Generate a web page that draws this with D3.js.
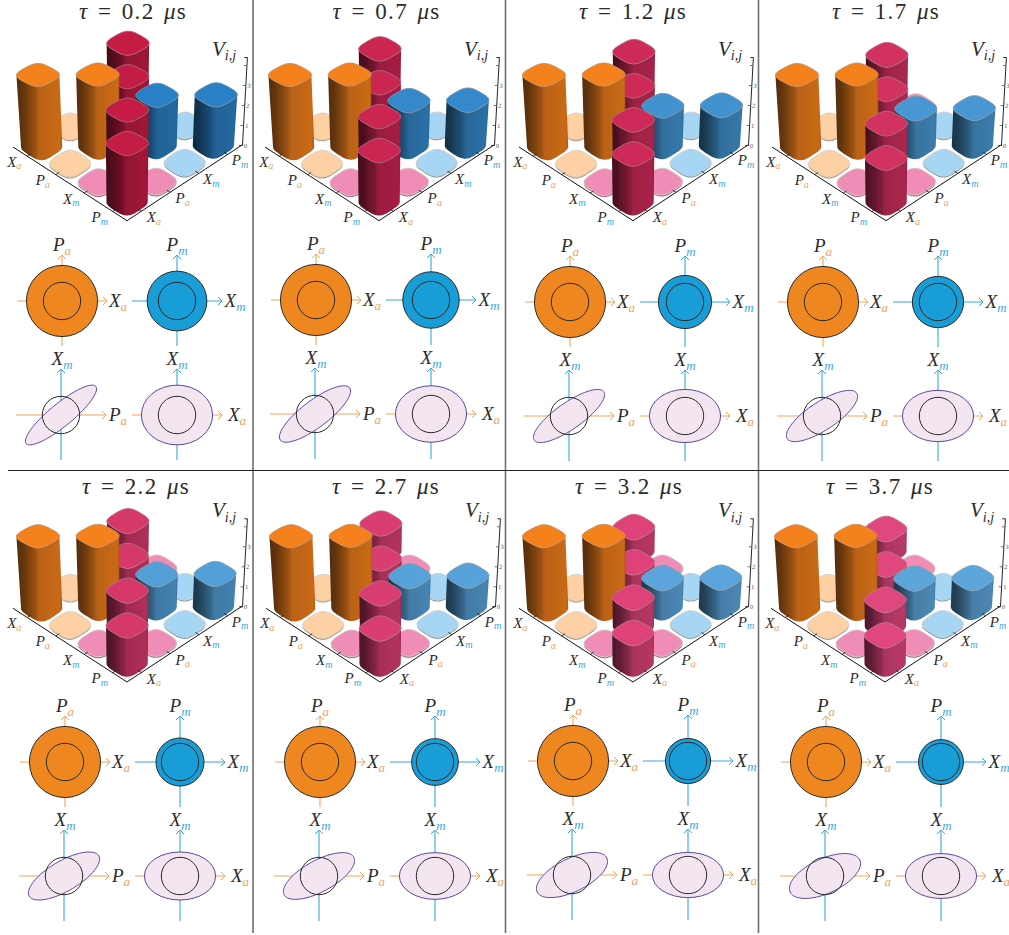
<!DOCTYPE html>
<html>
<head>
<meta charset="utf-8">
<title>Covariance matrices</title>
<script src="https://d3js.org/d3.v7.min.js"></script>
<style>
    html, body { margin: 0; padding: 0; background: #fff; overflow: hidden; }
    svg { display: block; }
    text { font-family: "Liberation Serif", serif; fill: #2b2b2b; white-space: pre; }
</style>
</head>
<body>
<svg id="chart" width="1009" height="935"></svg>
<script>
// values, one entry per panel
const taus = ["0.2", "0.7", "1.2", "1.7", "2.2", "2.7", "3.2", "3.7"];
const vAtom = [3.62, 3.62, 3.62, 3.62, 3.62, 3.62, 3.62, 3.62];
const vMech = [2.55, 2.28, 2.02, 1.88, 1.65, 1.56, 1.46, 1.44];
const vCross = [2.66, 2.34, 2.18, 2.0, 1.72, 1.58, 1.38, 1.27];
const tileAtom = 0.07, tileMech = 0.07, tileCross = 0.07;

const quadratures = ["X_a", "P_a", "X_m", "P_m"];
// A M C = big bars, a m c = the small tiles
const matrixKinds = [
    ["A", "a", "c", "C"],
    ["a", "A", "C", "c"],
    ["c", "C", "M", "m"],
    ["C", "c", "m", "M"]
];
const zTicks = [0, 1, 2, 3, 4];

// layout of the panels
const plotX = [127, 379, 633, 886, 127, 380, 633, 885];
const plotY = [220.7, 220.7, 220.7, 220.7, 682, 682, 682, 682];
const phaseX = [62, 316, 570, 823, 65, 320, 573, 826];
const phaseY = [301, 300, 302, 302, 762, 762, 761, 762];
const titleX = [133, 386.5, 633, 886, 136, 386, 629, 880];
const titleY = [19, 19, 19, 19, 494, 494, 494, 494];

const orange = "#ee8720", blue = "#189dd6";
const subOrange = "#f0a25c", subBlue = "#3aa9de";
const axisOrange = "#f4a35a", axisBlue = "#38a8de";

const svg = d3.select("#chart");
const defs = svg.append("defs");
defs.append("filter").attr("id", "soft")
    .append("feGaussianBlur").attr("stdDeviation", 0.4);

[["arrowO", axisOrange], ["arrowB", axisBlue]].forEach(function (m) {
    defs.append("marker").attr("id", m[0])
        .attr("viewBox", "-6 -6 8 12")
        .attr("markerUnits", "userSpaceOnUse")
        .attr("markerWidth", 8).attr("markerHeight", 12)
        .attr("orient", "auto")
        .append("path").attr("d", "M-4,-4 L0,0 L-4,4")
        .attr("fill", "none").attr("stroke", m[1]).attr("stroke-width", 1);
});

// floor projection, row and column measured in cells
const rowX = d3.scaleLinear().domain([4, 0]).range([0, -114]);
const rowY = d3.scaleLinear().domain([4, 0]).range([0, -73.7]);
const colX = d3.scaleLinear().domain([0, 4]).range([0, 115]);
const colY = d3.scaleLinear().domain([0, 4]).range([0, -75.7]);
const zPerUnit = d3.scaleLinear().domain([-130, -19]).range([17.6, 22]);
const lean = 0.012;

function project(a, b, z) {
    const fx = rowX(a) + colX(b);
    const fy = rowY(a) + colY(b);
    return [fx + fx * lean * z, fy - zPerUnit(fy) * z];
}

const radius = d3.scaleSqrt().domain([0, 1]).range([0, 18.7]);
const redOf = d3.scaleLinear().domain([1.27, 2.66]).range(["#e0467e", "#c41c44"]);
const blueOf = d3.scaleLinear().domain([1.44, 2.55]).range(["#5ca6dc", "#2a80c4"]);
const angles = d3.range(0, 360, 4).map(d => d * Math.PI / 180);
const closedLine = d3.line().curve(d3.curveLinearClosed);
const openLine = d3.line();

function cellValue(kind, i) {
    return { A: vAtom[i], M: vMech[i], C: vCross[i], a: tileAtom, m: tileMech, c: tileCross }[kind];
}

function cellColor(kind, i) {
    if (kind === "A") return "#f5811f";
    if (kind === "M") return blueOf(vMech[i]);
    if (kind === "C") return redOf(vCross[i]);
    return { a: "#fdd1a3", m: "#a6d6f3", c: "#f08db6" }[kind];
}

function shade(color, k) {
    const c = d3.rgb(color);
    return d3.rgb(c.r * k, c.g * k, c.b * k).formatHex();
}

function math(g, x, y, sym, sub, size) {
    const subColor = sub === "a" ? subOrange : subBlue;
    const t = g.append("text").attr("x", x).attr("y", y + size * 0.33)
        .attr("text-anchor", "middle").attr("font-size", size);
    t.append("tspan").attr("font-style", "italic").text(sym);
    t.append("tspan").attr("font-style", "italic").attr("font-size", size * 0.68)
        .attr("dy", size * 0.18).attr("fill", subColor).text(sub);
}

function drawCell(g, r, c, kind, i) {
    const value = cellValue(kind, i);
    const color = cellColor(kind, i);
    const big = kind === kind.toUpperCase();
    const half = 0.44;
    const outline = angles.map(function (t) {
        const ct = Math.cos(t), st = Math.sin(t);
        return [r + 0.5 + half * Math.sign(ct) * Math.pow(Math.abs(ct), 0.58),
                c + 0.5 + half * Math.sign(st) * Math.pow(Math.abs(st), 0.58)];
    });
    const bottom = outline.map(p => project(p[0], p[1], 0));
    const top = outline.map(p => project(p[0], p[1], value));

    // walk the front arc of the footprint, left extreme to right extreme
    const n = outline.length;
    const iL = d3.minIndex(bottom, p => p[0]);
    const iR = d3.maxIndex(bottom, p => p[0]);
    const arcA = [], arcB = [];
    for (let k = iL; ; k = (k + 1) % n) { arcA.push(k); if (k === iR) break; }
    for (let k = iL; ; k = (k - 1 + n) % n) { arcB.push(k); if (k === iR) break; }
    const front = d3.mean(arcA, k => bottom[k][1]) > d3.mean(arcB, k => bottom[k][1]) ? arcA : arcB;

    const id = "bar" + i + "-" + r + "-" + c;
    const grad = defs.append("linearGradient").attr("id", id);
    const stops = big
        ? [[0, 0.34], [0.14, 0.4], [0.4, 0.62], [0.5, 0.76], [0.95, 0.82], [1, 0.7]]
        : [[0, 0.72], [1, 0.72]];
    stops.forEach(function (s) {
        grad.append("stop").attr("offset", s[0]).attr("stop-color", shade(color, s[1]));
    });

    const body = front.map(k => bottom[k]).concat(front.slice().reverse().map(k => top[k]));
    g.append("path").attr("d", closedLine(body)).attr("fill", "url(#" + id + ")");
    g.append("path").attr("d", closedLine(top)).attr("fill", color)
        .attr("stroke", big ? d3.interpolateRgb(color, "#a09a94")(0.6) : "#cfc9c4")
        .attr("stroke-width", big ? 1 : 0.9);
}

function drawPlot(i) {
    const g = svg.append("g").attr("transform", "translate(" + plotX[i] + "," + plotY[i] + ")");
    const bars = g.append("g").attr("filter", "url(#soft)");

    const cells = [];
    matrixKinds.forEach(function (row, r) {
        row.forEach(function (kind, c) { cells.push({ r: r, c: c, kind: kind }); });
    });
    // back to front
    cells.sort((p, q) => project(p.r + 0.5, p.c + 0.5, 0)[1] - project(q.r + 0.5, q.c + 0.5, 0)[1]);
    cells.forEach(d => drawCell(bars, d.r, d.c, d.kind, i));

    // floor axes
    const floor = [project(0, 0, 0), project(4, 0, 0), project(4, 4, 0)];
    g.append("path").attr("d", openLine(floor))
        .attr("fill", "none").attr("stroke", "#111").attr("stroke-width", 1);

    quadratures.forEach(function (q, k) {
        const parts = q.split("_");
        const onLeft = project(k + 0.5, 0, 0);
        const onRight = project(4, k + 0.5, 0);
        const leftIn = project(k + 0.5, 0.12, 0);
        const rightIn = project(3.88, k + 0.5, 0);
        g.append("path").attr("d", openLine([onLeft, leftIn])).attr("stroke", "#111").attr("stroke-width", 0.8);
        g.append("path").attr("d", openLine([onRight, rightIn])).attr("stroke", "#111").attr("stroke-width", 0.8);
        math(g, onLeft[0] - 13, onLeft[1] + 5.5, parts[0], parts[1], 15);
        math(g, onRight[0] + 12.5, onRight[1] + 6, parts[0], parts[1], 15);
    });

    // vertical axis, leans a little to the right with the perspective
    const zCorner = project(4, 4, 0);
    const zScale = d3.scaleLinear().domain([0, 4.4]).range([0, -88]);
    const zAxis = d3.axisLeft(zScale).tickValues(zTicks).tickSize(2.5)
        .tickFormat(d => d === 4 ? "" : d);
    const za = g.append("g")
        .attr("transform", "translate(" + zCorner[0] + "," + zCorner[1] + ") skewX(-3.2)")
        .call(zAxis);
    za.select(".domain").attr("stroke", "#111").attr("stroke-width", 0.9);
    za.selectAll(".tick line").attr("stroke", "#333").attr("stroke-width", 0.7);
    za.selectAll(".tick text").attr("x", 2).attr("text-anchor", "start")
        .attr("font-size", 6.5).attr("font-family", "Liberation Sans").style("fill", "#555");

    const v = g.append("text").attr("x", 85).attr("y", -165).attr("font-size", 21);
    v.append("tspan").attr("font-style", "italic").text("V");
    v.append("tspan").attr("font-style", "italic").attr("font-size", 14).attr("dy", 4.5).text("i,j");
}

function axisPair(g, cx, cy, hColor, vColor) {
    const line = function (x1, y1, x2, y2, color, marker) {
        g.append("line").attr("x1", x1).attr("y1", y1).attr("x2", x2).attr("y2", y2)
            .attr("stroke", color).attr("stroke-width", 1.1)
            .attr("marker-end", "url(#" + marker + ")");
    };
    line(cx - 45, cy, cx + 45, cy, hColor, hColor === axisOrange ? "arrowO" : "arrowB");
    line(cx, cy + 45, cx, cy - 46, vColor, vColor === axisOrange ? "arrowO" : "arrowB");
}

function ring(g, cx, cy, r, color) {
    g.append("circle").attr("cx", cx).attr("cy", cy).attr("r", r)
        .attr("fill", color).attr("stroke", "#2a2a2a").attr("stroke-width", 1);
}

function drawPhase(i) {
    const g = svg.append("g").attr("transform", "translate(" + phaseX[i] + "," + phaseY[i] + ")");
    const rA = radius(vAtom[i]), rM = radius(vMech[i]), r1 = radius(1);
    const rho = vCross[i] / Math.sqrt(vAtom[i] * vMech[i]);
    const gap = 115, lower = 114;

    // atom
    axisPair(g, 0, 0, axisOrange, axisOrange);
    ring(g, 0, 0, rA, orange);
    ring(g, 0, 0, r1, "none");
    math(g, 56, 0, "X", "a", 19);
    math(g, 0, -56, "P", "a", 19);

    // mechanics
    axisPair(g, gap, 0, axisBlue, axisBlue);
    ring(g, gap, 0, rM, blue);
    ring(g, gap, 0, r1, "none");
    math(g, gap + 58, 0, "X", "m", 19);
    math(g, gap, -56, "P", "m", 19);

    // correlated quadratures
    axisPair(g, -1, lower, axisOrange, axisBlue);
    const tilted = angles.map(t => [
        -1 + rA * Math.cos(t),
        lower - rM * (rho * Math.cos(t) + Math.sqrt(1 - rho * rho) * Math.sin(t))
    ]);
    g.append("path").attr("d", closedLine(tilted))
        .attr("fill", "#f3e6f1").attr("stroke", "#5b47a0").attr("stroke-width", 1);
    ring(g, -1, lower, r1, "none");
    math(g, 56, lower, "P", "a", 19);
    math(g, 0, lower - 56, "X", "m", 19);

    // uncorrelated quadratures
    axisPair(g, gap, lower, axisOrange, axisBlue);
    g.append("ellipse").attr("cx", gap).attr("cy", lower).attr("rx", rA).attr("ry", rM)
        .attr("fill", "#f3e6f1").attr("stroke", "#5b47a0").attr("stroke-width", 1);
    ring(g, gap, lower, r1, "none");
    math(g, gap + 60, lower, "X", "a", 19);
    math(g, gap, lower - 56, "X", "m", 19);
}

function drawTitle(i) {
    const t = svg.append("text").attr("x", titleX[i]).attr("y", titleY[i])
        .attr("text-anchor", "middle").attr("font-size", 23)
        .attr("letter-spacing", 1.3).attr("word-spacing", 2.5);
    t.append("tspan").attr("font-style", "italic").text("τ");
    t.append("tspan").text(" = " + taus[i] + " ");
    t.append("tspan").attr("font-style", "italic").text("μ");
    t.append("tspan").text("s");
}

taus.forEach(function (tau, i) {
    drawPlot(i);
    drawPhase(i);
    drawTitle(i);
});

// panel separators
[253, 505.5, 758.5].forEach(function (x) {
    svg.append("line").attr("x1", x).attr("x2", x).attr("y1", 0).attr("y2", 933)
        .attr("stroke", "#6f6f6f").attr("stroke-width", 1.6);
});
svg.append("line").attr("x1", 8).attr("x2", 1009).attr("y1", 470.5).attr("y2", 470.5)
    .attr("stroke", "#222").attr("stroke-width", 1);
</script>
</body>
</html>
